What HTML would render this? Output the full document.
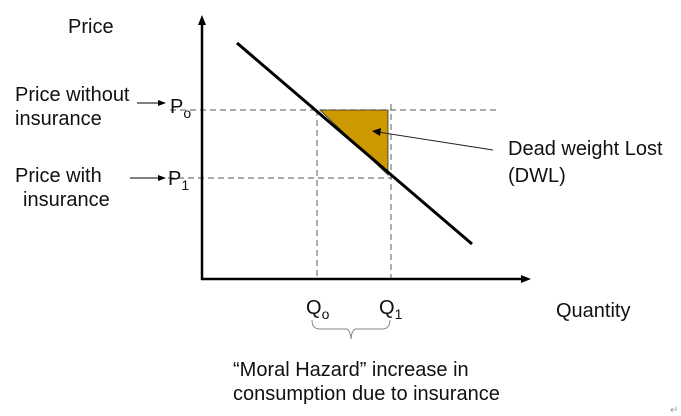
<html><body style="margin:0;background:#fff">
<svg width="681" height="416" xmlns="http://www.w3.org/2000/svg" font-family="Liberation Sans, Arial, sans-serif" fill="#111">
<g stroke="#777" stroke-width="1.2" stroke-dasharray="6,4" fill="none">
<line x1="170" y1="110" x2="500" y2="110"/>
<line x1="168" y1="178" x2="392" y2="178"/>
<line x1="317" y1="110" x2="317" y2="279"/>
<line x1="391" y1="104" x2="391" y2="279"/>
</g>
<polygon points="320,110 388,110 388,175" fill="#cc9900" stroke="#333" stroke-width="0.8"/>
<line x1="237" y1="43" x2="472" y2="244" stroke="#000" stroke-width="3"/>
<line x1="202" y1="20" x2="202" y2="280" stroke="#000" stroke-width="2.5"/>
<polygon points="202,15 198,25 206,25" fill="#000"/>
<line x1="201" y1="279" x2="525" y2="279" stroke="#000" stroke-width="2.5"/>
<polygon points="531,279 521,275 521,283" fill="#000"/>
<line x1="493" y1="150" x2="378" y2="132" stroke="#222" stroke-width="1"/>
<polygon points="372,131 381,128 380,136" fill="#000"/>
<line x1="137" y1="103" x2="160" y2="103" stroke="#000" stroke-width="1"/>
<polygon points="166,103 158,100 158,106" fill="#000"/>
<line x1="130" y1="178" x2="160" y2="178" stroke="#000" stroke-width="1"/>
<polygon points="166,178 158,175 158,181" fill="#000"/>
<g font-size="20">
<text x="68" y="33">Price</text>
<text x="15" y="101">Price without</text>
<text x="15" y="125">insurance</text>
<text x="15" y="182">Price with</text>
<text x="23" y="206">insurance</text>
<text x="170" y="113">P<tspan font-size="14" dy="5">o</tspan></text>
<text x="168" y="185">P<tspan font-size="14" dy="5">1</tspan></text>
<text x="306" y="314">Q<tspan font-size="14" dy="5">o</tspan></text>
<text x="379" y="314">Q<tspan font-size="14" dy="5">1</tspan></text>
<text x="556" y="317">Quantity</text>
<text x="508" y="155">Dead weight Lost</text>
<text x="508" y="182">(DWL)</text>
<text x="233" y="376">“Moral Hazard” increase in</text>
<text x="233" y="400">consumption due to insurance</text>
</g>
<path d="M312,320 q0,9 8,9 h26 q4,0 5,10 q1,-10 5,-10 h26 q8,0 8,-9" stroke="#888" fill="none" stroke-width="1"/>
<text x="670" y="413" font-size="10" fill="#999">↵</text>
</svg>
</body></html>
